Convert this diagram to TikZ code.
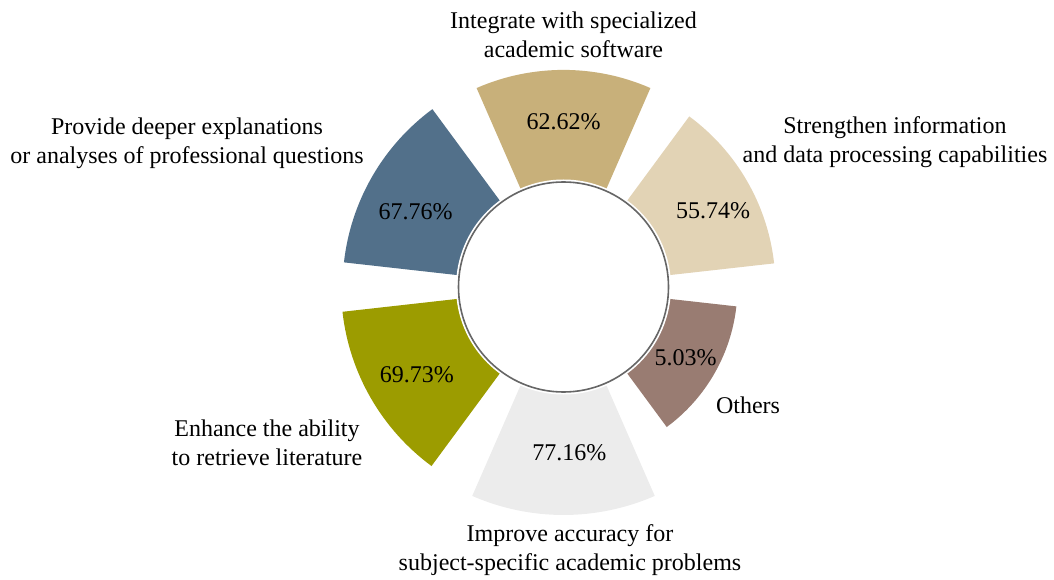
\documentclass[tikz,border=0pt]{standalone}
\usepackage{fontspec}
\setmainfont{Liberation Serif}
\usetikzlibrary{positioning}
\definecolor{slateblue}{HTML}{52708A}
\definecolor{sandtan}{HTML}{C8B07A}
\definecolor{paletan}{HTML}{E2D3B5}
\definecolor{mauve}{HTML}{997C72}
\definecolor{lightgrey}{HTML}{ECECEC}
\definecolor{olive}{HTML}{9C9C00}
\definecolor{rimgrey}{HTML}{666666}

\begin{document}
\begin{tikzpicture}[x=1pt,y=1pt,
      pct/.style={font=\fontsize{24}{29}\selectfont,inner sep=0pt},
      caption/.style={align=center,font=\fontsize{24}{29}\selectfont,inner sep=0pt},
      hub/.style={circle,draw=rimgrey,fill=white,line width=1.6pt,minimum size=210pt,
        preaction={draw=white,line width=5pt}}]
  \useasboundingbox (0,0) rectangle (1054,579);
  \coordinate (c) at (563.5,292);
  % petals: angle / value / colour / name / label angle / label radius
  \foreach \ang/\val/\col/\nm/\la/\lr in {90/62.62/sandtan/integrate/90/165,
      30/55.74/paletan/strengthen/27/168, -30/5.03/mauve/others/-30/141,
      -90/77.16/lightgrey/improve/-88/166, 210/69.73/olive/enhance/211/171,
      150/67.76/slateblue/provide/153/166}{
    \pgfmathsetmacro{\rout}{170.2+0.749*\val}
    \fill[\col] ([shift={(\ang-23.6:100)}]c) arc[start angle=\ang-23.6,end angle=\ang+23.6,radius=100]
      -- ([shift={(\ang+23.6:\rout)}]c) arc[start angle=\ang+23.6,end angle=\ang-23.6,radius=\rout] -- cycle;
    \node[pct] (p-\nm) at ([shift={(\la:\lr)}]c) {\val\%};
  }
  \node[hub] (hub) at (c) {};

  \node[caption] (t-integrate) at (573.5,544.5) {Integrate with specialized\\academic software};
  \node[caption] (t-provide) at (187,435.5) {Provide deeper explanations\\or analyses of professional questions};
  \node[caption] (t-strengthen) at (895,436.5) {Strengthen information\\and data processing capabilities};
  \node[caption] (t-enhance) at (267,136) {Enhance the ability\\to retrieve literature};
  \node[caption] (t-improve) at (570,29) {Improve accuracy for\\subject-specific academic problems};
  \node[caption] (t-others) at (748,174) {Others};
\end{tikzpicture}
\end{document}
